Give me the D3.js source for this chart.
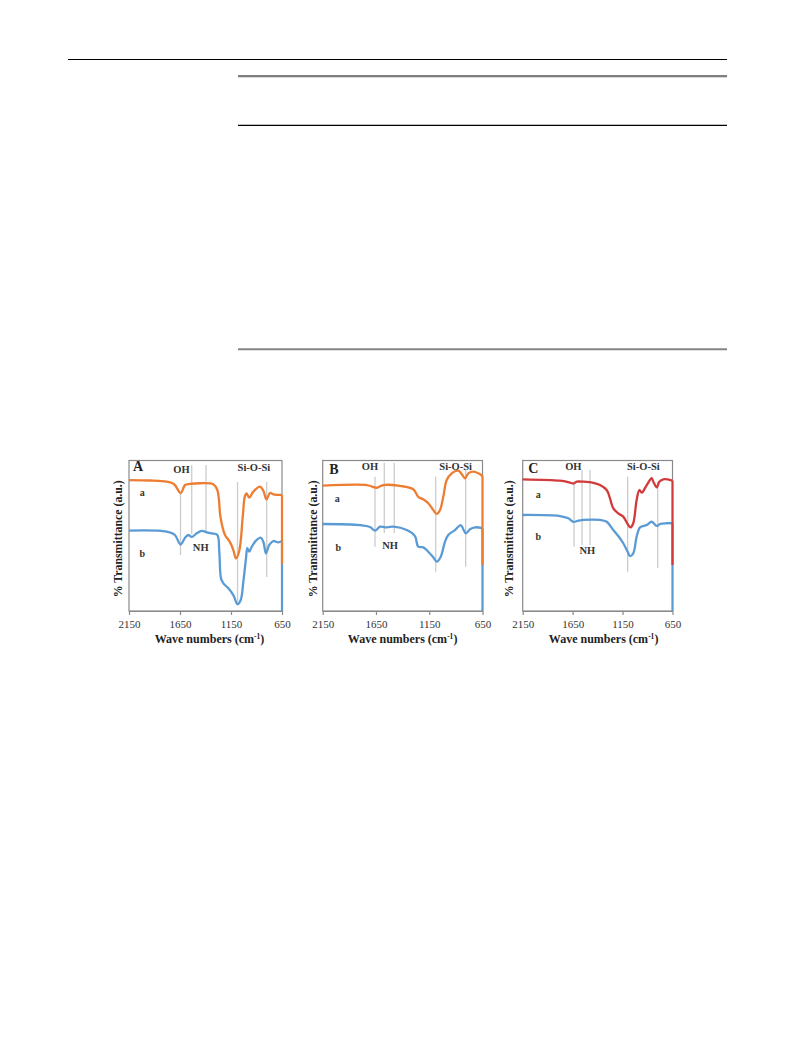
<!DOCTYPE html>
<html><head><meta charset="utf-8">
<script src="https://cdn.jsdelivr.net/npm/d3@7"></script>
<style>html,body{margin:0;padding:0;background:#fff;} svg{display:block;}</style>
</head><body>
<script>
// ---------------- DATA ----------------
const wnTicks = [2150, 1650, 1150, 650];
const panelIds = ["A", "B", "C"];
const seriesNames = ["a", "b"];

// Panel A spectra [wavenumber, %T (a.u.)]
const specAa = [[2150,87.0],[1945,86.7],[1780,85.9],[1710,84.4],[1643,78.4],[1600,83.7],[1552,84.4],[1454,84.9],[1324,84.2],[1284,80.4],[1268,73.8],[1258,64.9],[1238,57.1],[1209,50.5],[1160,45.8],[1127,40.5],[1101,35.0],[1069,39.9],[1035,62.5],[1013,76.4],[996,78.1],[971,75.3],[931,79.3],[866,82.7],[833,79.9],[802,74.2],[768,78.4],[735,77.5],[650,77.1]];
const specAb = [[2150,53.4],[1780,52.7],[1700,50.5],[1645,44.2],[1600,48.7],[1569,50.5],[1535,49.2],[1486,51.6],[1437,53.2],[1388,52.3],[1339,51.6],[1284,50.5],[1265,39.4],[1248,21.7],[1225,18.4],[1176,15.1],[1127,10.6],[1086,4.5],[1055,7.3],[1029,19.5],[1003,35.0],[990,41.7],[971,39.4],[947,42.7],[898,47.2],[859,48.7],[833,46.0],[807,38.3],[775,43.9],[735,46.5],[686,45.6],[650,46.5]];
// Panel B spectra
const specBa = [[2150,83.3],[1737,83.7],[1687,82.7],[1643,81.9],[1581,83.7],[1424,83.1],[1300,80.9],[1253,75.9],[1206,74.2],[1159,71.6],[1112,67.1],[1080,64.5],[1049,67.1],[1018,75.9],[986,87.0],[939,91.5],[877,93.2],[845,91.0],[814,88.2],[783,91.5],[736,92.6],[689,91.5],[650,89.7]];
const specBb = [[2150,57.8],[1800,57.1],[1706,55.8],[1659,53.4],[1612,56.0],[1565,55.6],[1487,56.0],[1361,53.8],[1284,49.8],[1253,42.7],[1206,42.3],[1159,39.4],[1112,35.7],[1080,32.8],[1042,36.1],[1002,46.0],[971,50.5],[908,53.8],[855,57.1],[830,54.3],[805,51.6],[767,54.3],[720,55.6],[650,55.0]];
// Panel C spectra
const specCa = [[2150,87.5],[1777,86.6],[1696,85.7],[1643,84.7],[1609,85.9],[1543,85.9],[1443,85.2],[1376,83.7],[1309,80.4],[1276,74.9],[1243,68.2],[1193,64.9],[1143,62.7],[1093,57.1],[1069,55.6],[1043,58.3],[1009,73.8],[982,80.4],[958,78.6],[908,83.7],[858,88.2],[842,85.9],[808,82.2],[782,85.9],[742,87.5],[650,86.6]];
const specCb = [[2150,63.8],[1777,63.1],[1693,61.6],[1643,59.3],[1593,60.0],[1543,60.5],[1376,60.5],[1309,59.3],[1243,53.8],[1193,49.8],[1143,45.0],[1099,39.4],[1076,36.5],[1043,38.3],[1009,49.4],[975,55.6],[908,57.1],[858,59.3],[808,56.5],[775,57.8],[708,58.3],[650,58.3]];
// value each trace falls to at the 650 cm-1 end
const dropEndA = [31.2, 30.6, 30.6];
const dropEndB = [0, 0, 0];

// reference (peak marker) lines: [wavenumber, top value, bottom value]
const refsA = [[1645,78.4,37.2],[1535,97.0,51.2],[1395,97.0,51.8],[1086,85.7,4.0],[800,85.7,22.6]];
const refsB = [[1659,89.2,42.7],[1572,98.3,51.8],[1478,98.3,51.8],[1089,89.2,26.1],[808,93.7,29.4]];
const refsC = [[1636,85.9,42.7],[1556,93.7,43.9],[1476,93.7,43.9],[1099,89.2,26.1],[798,85.9,28.6]];

// annotations: [text, wavenumber, value, anchor]
const notesA = [["OH",1635,94.4,"middle"],["Si-O-Si",925,95.7,"middle"],["a",2020,78.6,"middle"],["b",2020,37.9,"middle"],["NH",1447,42.5,"middle"]];
const notesB = [["OH",1706,95.9,"middle"],["Si-O-Si",902,95.9,"middle"],["a",2013,74.9,"middle"],["b",2004,42.3,"middle"],["NH",1518,43.9,"middle"]];
const notesC = [["OH",1643,95.9,"middle"],["Si-O-Si",942,95.9,"middle"],["a",1994,77.7,"middle"],["b",1994,49.8,"middle"],["NH",1503,40.1,"middle"]];
const letterPos = [[2111,96.0],[2088,94.2],[2094,94.8]];

const xTitle = "Wave numbers (cm";
const xTitleSup = "-1";
const yTitle = "% Transmittance (a.u.)";

// ---------------- LAYOUT ----------------
const W = 793, H = 1053;
const panels = [{x0:129, x1:282, tdx:4, ytx:-11}, {x0:322.7, x1:482.5, tdx:0, ytx:-10}, {x0:522.7, x1:672.5, tdx:6, ytx:-13.5}];
const TOP = 460.5, BOT = 611;
const specs = [[specAa, specAb], [specBa, specBb], [specCa, specCb]];
const refs = [refsA, refsB, refsC];
const notes = [notesA, notesB, notesC];
const colorsA = ["#ED7D31", "#ED7D31", "#D23B3B"];
const colorB = "#5B9BD5";
const serif = "'Liberation Serif', 'Times New Roman', serif";

const svg = d3.select("body").append("svg").attr("width", W).attr("height", H);
svg.append("rect").attr("width", W).attr("height", H).attr("fill", "#fff");

// page / table rules above the figure
const rules = svg.append("g");
rules.append("line").attr("x1",68).attr("x2",727).attr("y1",59.5).attr("y2",59.5).attr("stroke","#000").attr("stroke-width",1.2);
rules.append("line").attr("x1",238).attr("x2",727).attr("y1",76).attr("y2",76).attr("stroke","#555").attr("stroke-width",1.6);
rules.append("line").attr("x1",238).attr("x2",727).attr("y1",77.5).attr("y2",77.5).attr("stroke","#ccc").attr("stroke-width",0.8);
rules.append("line").attr("x1",238).attr("x2",727).attr("y1",125.3).attr("y2",125.3).attr("stroke","#000").attr("stroke-width",1.2);
rules.append("line").attr("x1",238).attr("x2",727).attr("y1",349.3).attr("y2",349.3).attr("stroke","#858585").attr("stroke-width",2);

panels.forEach((p, i) => {
  const x = d3.scaleLinear().domain([2150, 650]).range([p.x0, p.x1]);
  const y = d3.scaleLinear().domain([0, 100]).range([BOT, TOP]);
  const g = svg.append("g");

  // frame
  g.append("rect").attr("x", p.x0).attr("y", TOP).attr("width", p.x1 - p.x0).attr("height", BOT - TOP)
    .attr("fill", "none").attr("stroke", "#8a8a8a").attr("stroke-width", 1.2);

  // x axis
  const ax = g.append("g").attr("transform", `translate(0,${BOT})`)
    .call(d3.axisBottom(x).tickValues(wnTicks).tickSize(4).tickSizeOuter(0).tickPadding(5).tickFormat(d3.format("d")));
  ax.select(".domain").attr("stroke", "#8a8a8a").attr("stroke-width", 1.2);
  ax.selectAll(".tick line").attr("stroke", "#8a8a8a").attr("stroke-width", 1.2);
  ax.selectAll("text").attr("font-family", serif).attr("font-size", 11).attr("fill", "#333");

  // reference lines
  refs[i].forEach(r => {
    g.append("line").attr("x1", x(r[0])).attr("x2", x(r[0])).attr("y1", y(r[1])).attr("y2", y(r[2]))
      .attr("stroke", "#cccccc").attr("stroke-width", 1.3);
  });

  const smooth = d3.line().x(d => x(d[0])).y(d => y(d[1])).curve(d3.curveCatmullRom.alpha(0.5));
  const straight = d3.line().x(d => x(d[0])).y(d => y(d[1]));
  const [sa, sb] = specs[i];

  // series b (blue)
  const lb = sb[sb.length - 1];
  g.append("path").attr("d", straight([lb, [lb[0], dropEndB[i]]])).attr("fill","none").attr("stroke", colorB).attr("stroke-width", 2.2);
  g.append("path").attr("d", smooth(sb)).attr("fill","none").attr("stroke", colorB).attr("stroke-width", 2.3).attr("stroke-linejoin","round");
  // series a
  const la = sa[sa.length - 1];
  g.append("path").attr("d", straight([la, [la[0], dropEndA[i]]])).attr("fill","none").attr("stroke", colorsA[i]).attr("stroke-width", 2.2);
  g.append("path").attr("d", smooth(sa)).attr("fill","none").attr("stroke", colorsA[i]).attr("stroke-width", 2.3).attr("stroke-linejoin","round");

  // panel letter
  g.append("text").attr("x", x(letterPos[i][0])).attr("y", y(letterPos[i][1])).attr("dy", "0.35em")
    .attr("font-family", serif).attr("font-weight", "bold").attr("font-size", 14).attr("fill", "#222").text(panelIds[i]);

  // annotations
  notes[i].forEach(n => {
    const small = (n[0] === "a" || n[0] === "b");
    g.append("text").attr("x", x(n[1])).attr("y", y(n[2])).attr("dy", "0.35em").attr("text-anchor", n[3])
      .attr("font-family", serif).attr("font-weight", "bold").attr("font-size", small ? 10 : 10.5).attr("fill", "#333").text(n[0]);
  });

  // x title
  const xt = g.append("text").attr("x", (p.x0 + p.x1) / 2 + p.tdx).attr("y", 643).attr("text-anchor", "middle")
    .attr("font-family", serif).attr("font-weight", "bold").attr("font-size", 12).attr("fill", "#222");
  xt.append("tspan").text(xTitle);
  xt.append("tspan").attr("font-size", 7.5).attr("dy", -4).text(xTitleSup);
  xt.append("tspan").attr("dy", 4).text(")");

  // y title
  g.append("text").attr("transform", `translate(${p.x0 + p.ytx},${(TOP + BOT) / 2 + 3}) rotate(-90)`)
    .attr("text-anchor", "middle").attr("dy", "0.35em")
    .attr("font-family", serif).attr("font-weight", "bold").attr("font-size", 11.8).attr("fill", "#222").text(yTitle);
});
</script>
</body></html>
